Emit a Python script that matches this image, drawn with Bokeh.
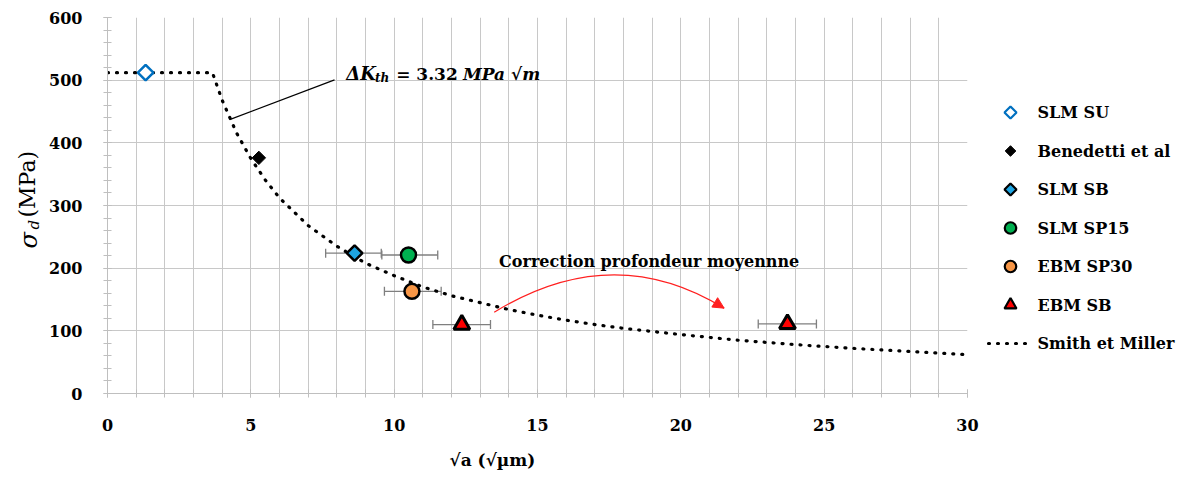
import math
from bokeh.plotting import figure
from bokeh.layouts import row
from bokeh.models import (ColumnDataSource, Whisker, TeeHead, Label,
                          SingleIntervalTicker, Arrow, NormalHead, Range1d, Title)
from bokeh.core.properties import value
from bokeh.embed import file_html
from bokeh.resources import INLINE

# ---------------- data ----------------
smith_x = [0, 3.66, 4.0, 4.5, 5.0, 5.5, 6.0, 7.0, 8.0, 9.0, 10.0, 11.0, 12.0, 13.0, 14.0,
           15.0, 16.0, 17.0, 18.0, 20.0, 22.0, 24.0, 26.0, 28.0, 30.0]
smith_y = [512, 512, 468, 416, 375, 341, 312, 268, 235, 208, 188, 170, 156, 145, 134,
           125, 117, 110, 104, 94, 85, 78, 72, 67, 62]

slm_su_x = [1.33]
slm_su_y = [512]

bened_x = [5.28]
bened_y = [376]

slm_sb_x = [8.62]
slm_sb_y = [224]
slm_sb_lo = [7.61]
slm_sb_hi = [9.55]

slm_sp15_x = [10.50]
slm_sp15_y = [221]
slm_sp15_lo = [9.57]
slm_sp15_hi = [11.52]

ebm_sp30_x = [10.62]
ebm_sp30_y = [163]
ebm_sp30_lo = [9.66]
ebm_sp30_hi = [11.64]

ebm_sb_x = [12.36, 23.72]
ebm_sb_y = [110, 111]
ebm_sb_lo = [11.35, 22.70]
ebm_sb_hi = [13.36, 24.73]

labels = ["SLM SU", "Benedetti et al", "SLM SB", "SLM SP15", "EBM SP30", "EBM SB", "Smith et Miller"]

x_title = "√a (√µm)"
y_title = ["σ", "d", "(MPa)"]

# annotation anchors (data units)
dk_line_x = [4.26, 7.92]
dk_line_y = [437, 500.5]
arc_start = (13.49, 129.7)
arc_ctrl = (17.62, 245.8)
arc_end = (21.51, 136.2)

SERIF = "DejaVu Serif"
GRID = "#c8c8c8"
AX = "#bfbfbf"
TXT = "black"

# colours / marker styles
STY = {
    "su": dict(fill_color="white", line_color="#0070c0", line_width=2.5),
    "bd": dict(fill_color="black", line_color="black", line_width=1),
    "sb": dict(fill_color="#1ea5e3", line_color="black", line_width=2.5),
    "sp15": dict(fill_color="#00b050", line_color="black", line_width=2.5),
    "sp30": dict(fill_color="#f79646", line_color="black", line_width=2.5),
    "ebm": dict(fill_color="#ff0000", line_color="black", line_width=3),
}
SMITH_STY = dict(line_color="black", line_width=3.2, line_dash="1 8", line_cap="round")

LEFT_W = 46
FRAME_L, FRAME_R, FRAME_T, FRAME_B = 106, 967, 17, 393
MAIN_RB = 14
H = 486
TOTAL_W = 1178
RIGHT_W = TOTAL_W - FRAME_R - MAIN_RB

p = figure(width=FRAME_R + MAIN_RB - LEFT_W, height=H,
           x_range=Range1d(0, 30), y_range=Range1d(0, 600),
           output_backend="svg", toolbar_location=None,
           min_border_left=FRAME_L - LEFT_W, min_border_right=MAIN_RB,
           min_border_top=FRAME_T, min_border_bottom=H - FRAME_B)
p.outline_line_color = None
p.background_fill_color = "white"
p.border_fill_color = "white"

p.xaxis.ticker = SingleIntervalTicker(interval=5, num_minor_ticks=5)
p.yaxis.ticker = SingleIntervalTicker(interval=100, num_minor_ticks=5)
p.xgrid.ticker = SingleIntervalTicker(interval=1)
p.ygrid.ticker = SingleIntervalTicker(interval=100)
for g in (p.xgrid, p.ygrid):
    g.grid_line_color = GRID
    g.grid_line_width = 1
for ax in (p.xaxis, p.yaxis):
    ax.axis_line_color = AX
    ax.major_tick_line_color = AX
    ax.minor_tick_line_color = AX
    ax.major_tick_in = 4
    ax.major_tick_out = 4
    ax.minor_tick_in = 4
    ax.minor_tick_out = 4
    ax.major_label_text_font = SERIF
    ax.major_label_text_font_style = "bold"
    ax.major_label_text_font_size = "16px"
    ax.major_label_text_color = TXT
p.xaxis.major_label_standoff = 21
p.yaxis.major_label_standoff = 21

# Smith & Miller dotted curve
p.line(smith_x, smith_y, **SMITH_STY)

# error bars
def add_err(x, y, lo, hi):
    src = ColumnDataSource(dict(x=x, y=y, lo=lo, hi=hi))
    w = Whisker(base="y", lower="lo", upper="hi", dimension="width", source=src,
                line_color="#7f7f7f", line_width=1.3, level="underlay",
                upper_head=TeeHead(size=9, line_color="#7f7f7f", line_width=1.3),
                lower_head=TeeHead(size=9, line_color="#7f7f7f", line_width=1.3))
    p.add_layout(w)

add_err(slm_sb_x, slm_sb_y, slm_sb_lo, slm_sb_hi)
add_err(slm_sp15_x, slm_sp15_y, slm_sp15_lo, slm_sp15_hi)
add_err(ebm_sp30_x, ebm_sp30_y, ebm_sp30_lo, ebm_sp30_hi)
add_err(ebm_sb_x, ebm_sb_y, ebm_sb_lo, ebm_sb_hi)

q = math.pi / 4
p.scatter(slm_su_x, slm_su_y, marker="square", angle=q, size=11, **STY["su"])
p.scatter(bened_x, bened_y, marker="square", angle=q, size=9.5, **STY["bd"])
p.scatter(slm_sb_x, slm_sb_y, marker="square", angle=q, size=11, **STY["sb"])
p.scatter(slm_sp15_x, slm_sp15_y, marker="circle", size=15, **STY["sp15"])
p.scatter(ebm_sp30_x, ebm_sp30_y, marker="circle", size=15, **STY["sp30"])
p.scatter(ebm_sb_x, ebm_sb_y, marker="triangle", size=16, **STY["ebm"])

# Delta K annotation
p.line(dk_line_x, dk_line_y, line_color="black", line_width=1.2)
p.add_layout(Label(x=8.33, y=510.6, text="ΔK", text_font=SERIF, text_font_style="bold italic",
                   text_font_size="18px", text_baseline="alphabetic", text_color=TXT))
p.add_layout(Label(x=9.33, y=504.0, text="th", text_font=SERIF, text_font_style="bold italic",
                   text_font_size="12px", text_baseline="alphabetic", text_color=TXT))
p.add_layout(Label(x=10.07, y=510.6, text="= 3.32", text_font=SERIF, text_font_style="bold",
                   text_font_size="17px", text_baseline="alphabetic", text_color=TXT))
p.add_layout(Label(x=12.40, y=510.6, text="MPa √m", text_font=SERIF, text_font_style="bold italic",
                   text_font_size="17px", text_baseline="alphabetic", text_color=TXT))

# correction arrow
p.quadratic(x0=[arc_start[0]], y0=[arc_start[1]], x1=[arc_end[0]], y1=[arc_end[1]],
            cx=[arc_ctrl[0]], cy=[arc_ctrl[1]], line_color="#ff2020", line_width=1.3)
f = 0.06
p.add_layout(Arrow(x_start=arc_end[0] - f * (arc_end[0] - arc_ctrl[0]),
                   y_start=arc_end[1] - f * (arc_end[1] - arc_ctrl[1]),
                   x_end=arc_end[0], y_end=arc_end[1], line_color="#ff2020", line_width=1.3,
                   end=NormalHead(size=11, fill_color="#ff2020", line_color="#ff2020")))
p.add_layout(Label(x=13.66, y=210.6, text="Correction profondeur moyennne", text_font=SERIF,
                   text_font_style="bold", text_font_size="16px", text_baseline="alphabetic",
                   text_color=TXT))

# x axis title (below panel, offset from frame left)
p.add_layout(Title(text=x_title, align="left", offset=342, text_font=SERIF,
                   text_font_style="bold", text_font_size="17px", standoff=28,
                   text_color=TXT), "below")

# ---------- strips beside the main plot (same height and frame as main plot) ----------
def strip(width, xr, yr):
    s = figure(width=width, height=H, x_range=xr, y_range=yr,
               output_backend="svg", toolbar_location=None, x_axis_location=None,
               y_axis_location=None, min_border=0, min_border_left=0, min_border_right=0,
               min_border_top=FRAME_T, min_border_bottom=H - FRAME_B)
    s.outline_line_color = None
    s.grid.visible = False
    s.background_fill_color = "white"
    s.border_fill_color = "white"
    return s

# y-axis title strip (data units = page pixels)
yl = strip(LEFT_W, Range1d(0, LEFT_W), Range1d(FRAME_B, FRAME_T))
yl.add_layout(Label(x=28, y=248, text=y_title[0], angle=math.pi / 2, text_font=SERIF,
                    text_font_style="italic", text_font_size="24px", text_align="left",
                    text_baseline="middle", text_color=TXT))
yl.add_layout(Label(x=33, y=229, text=y_title[1], angle=math.pi / 2, text_font=SERIF,
                    text_font_style="italic", text_font_size="15px", text_align="left",
                    text_baseline="middle", text_color=TXT))
yl.add_layout(Label(x=27, y=217, text=y_title[2], angle=math.pi / 2, text_font=SERIF,
                    text_font_size="22px", text_align="left", text_baseline="middle",
                    text_color=TXT))

# legend strip (data units = pixels from the strip's left edge / page top)
x0 = FRAME_R + MAIN_RB
lg = strip(RIGHT_W, Range1d(0, RIGHT_W), Range1d(FRAME_B, FRAME_T))
row_y = [112 + 38.5 * i for i in range(len(labels))]
sw_x = 1010 - x0
lg.scatter([sw_x], [row_y[0]], marker="square", angle=q, size=8.5,
           fill_color="white", line_color="#0070c0", line_width=2.2)
lg.scatter([sw_x], [row_y[1]], marker="square", angle=q, size=7.5, **STY["bd"])
lg.scatter([sw_x], [row_y[2]], marker="square", angle=q, size=8.5,
           fill_color="#1ea5e3", line_color="black", line_width=2.2)
lg.scatter([sw_x], [row_y[3]], marker="circle", size=11.5,
           fill_color="#00b050", line_color="black", line_width=2.2)
lg.scatter([sw_x], [row_y[4]], marker="circle", size=11.5,
           fill_color="#f79646", line_color="black", line_width=2.2)
lg.scatter([sw_x], [row_y[5]], marker="triangle", size=12,
           fill_color="#ff0000", line_color="black", line_width=2.2)
lg.line([988 - x0, 1032 - x0], [row_y[6], row_y[6]], **SMITH_STY)
lg.text(x=[1037 - x0] * len(labels), y=row_y, text=labels, text_font=value(SERIF),
        text_font_style="bold", text_font_size="16px", text_baseline="middle",
        text_color=TXT)

layout = row(yl, p, lg, spacing=0)
open("out.html", "w").write(file_html(layout, INLINE))
